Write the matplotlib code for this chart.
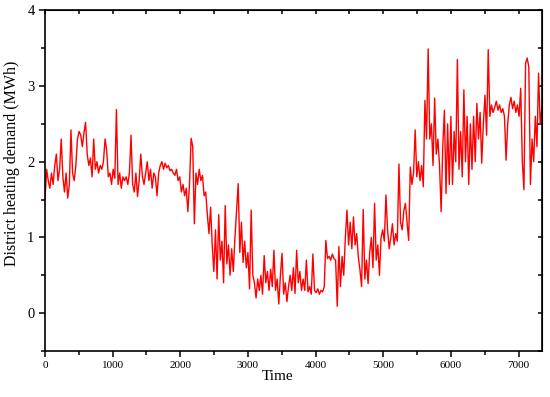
import matplotlib
matplotlib.use('Agg')
import matplotlib.pyplot as plt
import numpy as np

plt.rcParams['font.family'] = ['Liberation Serif', 'DejaVu Serif']

# daily readings of the hourly demand (MWh), one value every 24 h
winter_early = [1.5, 1.9, 1.75, 1.65, 1.85, 1.7, 1.95, 2.1, 1.75, 1.9,
                2.3, 1.8, 1.6, 1.85, 1.52, 1.7, 2.42, 1.85, 1.75, 1.95,
                2.3, 2.4, 2.35, 2.2, 2.38, 2.52, 2.1, 1.95, 2.05, 1.8,
                2.3, 1.9, 2.0, 1.85, 1.95, 1.9, 2.0, 2.3, 2.15, 1.8,
                1.85, 1.7, 1.9, 1.78, 2.69, 1.7, 1.85, 1.65, 1.8, 1.75]
spring = [1.8, 1.7, 1.85, 2.35, 1.7, 1.6, 1.85, 1.54, 1.75, 2.1,
          1.8, 1.7, 1.85, 2.0, 1.75, 1.9, 1.65, 1.85, 1.8, 1.55,
          1.85, 1.95, 2.0, 1.9, 1.98, 1.92, 1.95, 1.88, 1.9, 1.85,
          1.82, 1.9, 1.75, 1.8, 1.6, 1.7, 1.55, 1.65, 1.34, 1.7,
          2.31, 2.2, 1.18, 1.85, 1.7, 1.9, 1.75, 1.82, 1.55, 1.6,
          1.3, 1.05, 1.4, 0.9, 0.55, 1.1, 0.45, 1.3, 0.7, 0.95]
summer = [0.4, 1.42, 0.65, 0.9, 0.5, 0.85, 0.55, 1.0, 1.35, 1.71,
          0.8, 1.2, 0.67, 0.95, 0.6, 0.8, 0.32, 1.36, 0.5, 0.4,
          0.2, 0.45, 0.3, 0.5, 0.25, 0.76, 0.4, 0.55, 0.3, 0.58,
          0.35, 0.83, 0.3, 0.45, 0.12, 0.5, 0.79, 0.25, 0.4, 0.15,
          0.35, 0.5, 0.3, 0.6, 0.26, 0.83, 0.4, 0.55, 0.3, 0.45,
          0.3, 0.7, 0.28, 0.35, 0.25, 0.78, 0.3, 0.27, 0.32, 0.25,
          0.3, 0.28, 0.35, 0.96, 0.72, 0.75, 0.7, 0.78, 0.72, 0.7]
autumn = [0.09, 0.88, 0.35, 0.75, 0.5, 1.0, 1.36, 0.9, 1.2, 0.85,
          1.27, 0.9, 1.05, 0.74, 0.57, 0.35, 1.37, 0.45, 0.7, 0.39,
          0.8, 1.0, 0.6, 1.45, 0.7, 0.9, 0.5, 1.0, 1.1, 0.95,
          1.56, 1.1, 0.85, 1.0, 1.18, 0.9, 1.05, 0.95, 1.97, 1.2,
          1.1, 1.35, 1.45, 1.2, 0.96, 1.93, 1.7, 1.85, 2.42, 1.8,
          2.0, 1.75, 1.95, 1.67, 2.81, 2.3, 3.49, 2.3, 2.5, 1.95]
winter_late = [2.84, 2.1, 2.3, 1.95, 1.34, 2.2, 2.68, 1.58, 2.5, 1.7,
               2.6, 1.7, 2.4, 2.0, 3.35, 1.9, 2.4, 1.8, 2.95, 2.0,
               2.6, 1.7, 2.5, 1.9, 2.6, 2.0, 2.77, 2.3, 2.65, 1.98,
               2.5, 2.88, 2.35, 3.48, 2.6, 2.75, 2.65, 2.72, 2.8, 2.68,
               2.75, 2.65, 2.7, 2.6, 2.02, 2.5, 2.75, 2.85, 2.7, 2.8,
               2.65, 2.75, 2.6, 2.97, 2.0, 1.63, 3.3, 3.37, 3.25, 1.7,
               2.3, 2.0, 2.6, 2.2, 3.17, 2.5, 2.7]

demand = np.array(winter_early + spring + summer + autumn + winter_late)
hours = np.arange(len(demand)) * 24

fig = plt.figure(figsize=(5.5, 3.97), dpi=100)
ax = fig.add_axes([0.0818, 0.116, 0.9033, 0.858])
ax.plot(hours, demand, color='red', lw=1.0)

ax.set_xlim(0, 7344)
ax.set_ylim(-0.5, 4)
ax.set_xticks([0, 1000, 2000, 3000, 4000, 5000, 6000, 7000])
ax.set_xticks(np.arange(500, 7344, 1000), minor=True)
ax.set_yticks([0, 1, 2, 3, 4])
ax.set_yticks([-0.5, 0.5, 1.5, 2.5, 3.5], minor=True)
ax.tick_params(axis='x', which='both', direction='out', labelsize=8, width=1.1)
ax.tick_params(axis='y', which='both', direction='out', labelsize=10.5, width=1.1)
ax.tick_params(which='major', length=4)
ax.tick_params(which='minor', length=3)
for s in ax.spines.values():
    s.set_linewidth(1.2)

# mirrored ticks on top and right, pointing inwards
top = ax.secondary_xaxis('top')
top.set_xticks(ax.get_xticks())
top.set_xticks(np.arange(500, 7344, 1000), minor=True)
top.tick_params(which='both', direction='in', labeltop=False, width=1.1, length=3)
right = ax.secondary_yaxis('right')
right.set_yticks([0, 1, 2, 3, 4])
right.set_yticks([-0.5, 0.5, 1.5, 2.5, 3.5], minor=True)
right.tick_params(which='both', direction='in', labelright=False, width=1.1, length=3)

ax.set_xlabel('Time', fontsize=11)
ax.set_ylabel('District heating demand (MWh)', fontsize=11.5)
ax.xaxis.set_label_coords(0.469, -0.055)
ax.yaxis.set_label_coords(-0.05, 0.55)

fig.savefig('out.png', dpi=100)
